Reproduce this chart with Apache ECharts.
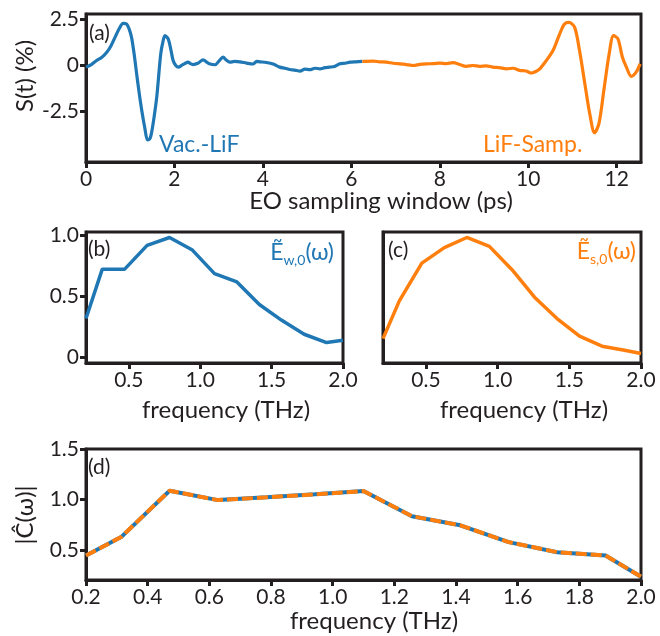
<!DOCTYPE html>
<html>
<head>
<meta charset="utf-8">
<script src="https://cdn.jsdelivr.net/npm/echarts@6/dist/echarts.min.js"></script>
<style>
  html, body { margin: 0; padding: 0; background: #fff; }
  #chart { width: 660px; height: 636px; }
</style>
</head>
<body>
<div id="chart"></div>
<script>
// panel (a): time-domain traces, S(t) in %
var tBlue = [0, 0.12, 0.24, 0.36, 0.47, 0.56, 0.655, 0.75, 0.84, 0.92, 0.98, 1.03, 1.09, 1.145, 1.2, 1.26, 1.33, 1.39, 1.44, 1.48, 1.54, 1.6, 1.69, 1.74, 1.785, 1.86, 1.92, 1.97, 2.03, 2.09, 2.16, 2.23, 2.31, 2.36, 2.42, 2.53, 2.65, 2.72, 2.79, 2.92, 3.01, 3.1, 3.17, 3.25, 3.36, 3.48, 3.63, 3.78, 3.86, 3.93, 4.08, 4.23, 4.38, 4.5, 4.61, 4.72, 4.84, 4.95, 5.06, 5.18, 5.29, 5.4, 5.51, 5.62, 5.74, 5.86, 5.97, 6.1, 6.25];
var sBlue = [-0.09, 0.05, 0.27, 0.45, 0.72, 1.05, 1.53, 2.0, 2.29, 2.25, 1.95, 1.53, 0.6, -0.45, -1.45, -2.43, -3.4, -4.05, -4.0, -3.69, -2.8, -1.71, 0.63, 1.3, 1.62, 1.44, 0.85, 0.27, 0.0, -0.09, 0.0, 0.1, 0.18, 0.1, 0.05, 0.12, 0.31, 0.2, 0.09, 0.04, 0.25, 0.45, 0.3, 0.18, 0.22, 0.2, 0.13, 0.08, 0.22, 0.2, 0.16, 0.08, -0.09, -0.15, -0.22, -0.25, -0.31, -0.2, -0.23, -0.15, -0.18, -0.12, -0.09, -0.05, 0.09, 0.12, 0.18, 0.2, 0.22];
var tOrange = [6.25, 6.49, 6.64, 6.79, 6.95, 7.1, 7.25, 7.4, 7.55, 7.7, 7.85, 8.0, 8.15, 8.3, 8.45, 8.6, 8.75, 8.9, 9.05, 9.2, 9.35, 9.51, 9.66, 9.81, 9.95, 10.07, 10.17, 10.26, 10.41, 10.56, 10.71, 10.82, 10.92, 11.05, 11.16, 11.28, 11.39, 11.5, 11.6, 11.71, 11.83, 11.93, 12.03, 12.13, 12.22, 12.33, 12.44, 12.53];
var sOrange = [0.22, 0.24, 0.2, 0.18, 0.12, 0.09, 0.05, 0.0, 0.06, 0.09, 0.1, 0.13, 0.1, 0.15, 0.05, -0.05, 0.0, -0.05, -0.02, -0.09, -0.12, -0.18, -0.15, -0.27, -0.3, -0.41, -0.33, -0.18, 0.27, 0.81, 1.71, 2.25, 2.34, 2.07, 0.81, -0.99, -2.61, -3.66, -3.15, -1.35, 0.63, 1.62, 1.44, 0.45, -0.09, -0.59, -0.36, 0.09];

// panel (b): |E_w,0|, panel (c): |E_s,0|, panel (d): |C|
var freqB = [0.2, 0.314, 0.471, 0.628, 0.785, 0.942, 1.1, 1.257, 1.414, 1.571, 1.728, 1.885, 2.0];
var ampB = [0.315, 0.72, 0.72, 0.915, 0.98, 0.88, 0.683, 0.615, 0.43, 0.30, 0.186, 0.118, 0.137];
var freqC = [0.2, 0.314, 0.471, 0.628, 0.785, 0.942, 1.1, 1.257, 1.414, 1.571, 1.728, 1.885, 2.0];
var ampC = [0.15, 0.46, 0.77, 0.897, 0.98, 0.907, 0.716, 0.49, 0.315, 0.17, 0.088, 0.055, 0.028];
var freqD = [0.2, 0.314, 0.471, 0.628, 0.785, 0.942, 1.1, 1.257, 1.414, 1.571, 1.728, 1.885, 2.0];
var ampD = [0.443, 0.626, 1.086, 0.993, 1.02, 1.05, 1.083, 0.833, 0.743, 0.576, 0.476, 0.443, 0.233];

var ticksAX = [0, 2, 4, 6, 8, 10, 12];
var ticksAY = [-2.5, 0, 2.5];
var ticksBX = [0.5, 1.0, 1.5, 2.0];
var ticksBY = [0, 0.5, 1.0];
var ticksDX = [0.2, 0.4, 0.6, 0.8, 1.0, 1.2, 1.4, 1.6, 1.8, 2.0];
var ticksDY = [0.5, 1.0, 1.5];

var blue = '#1f77b4';
var orange = '#ff7f0e';
var ink = '#231f20';
var font = 'Lato';

function pairs(xs, ys) {
  var out = [];
  for (var i = 0; i < xs.length; i++) out.push([xs[i], ys[i]]);
  return out;
}

function oneDec(v) {
  return v === 0 ? '0' : v.toFixed(1);
}

function xAx(idx, min, max, ticks, fmt) {
  return {
    type: 'value', gridIndex: idx, min: min, max: max,
    axisLine: { show: true, onZero: false, lineStyle: { color: ink, width: 3 } },
    axisTick: { show: true, length: 6, lineStyle: { color: ink, width: 3 }, customValues: ticks },
    axisLabel: { color: ink, fontSize: 21, fontFamily: font, margin: 7, customValues: ticks, formatter: fmt },
    splitLine: { show: false }
  };
}

function yAx(idx, min, max, ticks, fmt, show) {
  return {
    type: 'value', gridIndex: idx, min: min, max: max,
    axisLine: { show: true, onZero: false, lineStyle: { color: ink, width: 3 } },
    axisTick: { show: show, length: 6, lineStyle: { color: ink, width: 3 }, customValues: ticks },
    axisLabel: { show: show, color: ink, fontSize: 21, fontFamily: font, margin: 7, customValues: ticks, formatter: fmt },
    splitLine: { show: false }
  };
}

function gridBox(left, top, width, height) {
  return { left: left, top: top, width: width, height: height, show: true,
    borderColor: ink, borderWidth: 3, backgroundColor: 'transparent' };
}

// text anchored at its centre-left (or centre) point
function label(x, y, text, color, size, align, rot) {
  return { type: 'text', x: x, y: y, rotation: rot || 0,
    style: { text: text, fill: color, fontSize: size, fontFamily: font,
      align: align || 'left', verticalAlign: 'middle' } };
}

function tildeLabel(xRight, y, sub, color) {
  return { type: 'text', x: xRight, y: y,
    style: { text: '{e|Ẽ}{s|' + sub + '}{e|(ω)}', fill: color, fontFamily: font,
      align: 'right', verticalAlign: 'middle',
      rich: { e: { fontSize: 23, lineHeight: 28, fill: color, fontFamily: font },
              s: { fontSize: 14, lineHeight: 14, verticalAlign: 'bottom', fill: color, fontFamily: font } } } };
}

var chart = echarts.init(document.getElementById('chart'));
var option = {
  animation: false,
  backgroundColor: '#fff',
  grid: [
    gridBox(86, 14, 555, 148),
    gridBox(86, 232, 257, 131),
    gridBox(383, 232, 258, 131),
    gridBox(86, 449, 555, 131)
  ],
  xAxis: [
    xAx(0, 0, 12.55, ticksAX, function (v) { return String(v); }),
    xAx(1, 0.2, 2.0, ticksBX, function (v) { return v.toFixed(1); }),
    xAx(2, 0.2, 2.0, ticksBX, function (v) { return v.toFixed(1); }),
    xAx(3, 0.2, 2.0, ticksDX, function (v) { return v.toFixed(1); })
  ],
  yAxis: [
    yAx(0, -5.25, 2.8, ticksAY, function (v) { return v === 0 ? '0' : String(v); }, true),
    yAx(1, -0.05, 1.025, ticksBY, oneDec, true),
    yAx(2, -0.05, 1.025, ticksBY, oneDec, false),
    yAx(3, 0.2, 1.5, ticksDY, oneDec, true)
  ],
  series: [
    { type: 'line', xAxisIndex: 0, yAxisIndex: 0, data: pairs(tBlue, sBlue), showSymbol: false, smooth: 0.3,
      lineStyle: { color: blue, width: 3.2 } },
    { type: 'line', xAxisIndex: 0, yAxisIndex: 0, data: pairs(tOrange, sOrange), showSymbol: false, smooth: 0.3,
      lineStyle: { color: orange, width: 3.2 } },
    { type: 'line', xAxisIndex: 1, yAxisIndex: 1, data: pairs(freqB, ampB), showSymbol: false,
      lineStyle: { color: blue, width: 3.5 } },
    { type: 'line', xAxisIndex: 2, yAxisIndex: 2, data: pairs(freqC, ampC), showSymbol: false,
      lineStyle: { color: orange, width: 3.5 } },
    { type: 'line', xAxisIndex: 3, yAxisIndex: 3, data: pairs(freqD, ampD), showSymbol: false,
      lineStyle: { color: blue, width: 4 } },
    { type: 'line', xAxisIndex: 3, yAxisIndex: 3, data: pairs(freqD, ampD), showSymbol: false,
      lineStyle: { color: orange, width: 4, type: [11, 4] } }
  ],
  graphic: [
    // axis titles
    label(381, 201, 'EO sampling window (ps)', ink, 24, 'center'),
    label(226, 410, 'frequency (THz)', ink, 24, 'center'),
    label(524, 410, 'frequency (THz)', ink, 24, 'center'),
    label(374, 621, 'frequency (THz)', ink, 24, 'center'),
    label(25, 76, 'S(t) (%)', ink, 24, 'center', Math.PI / 2),
    label(25, 515, '|Ĉ(ω)|', ink, 24, 'center', Math.PI / 2),
    // panel letters
    label(89, 33, '(a)', ink, 21),
    label(88, 249, '(b)', ink, 21),
    label(388, 250, '(c)', ink, 21),
    label(88, 467, '(d)', ink, 21),
    // trace annotations
    label(159, 145, 'Vac.-LiF', blue, 23),
    label(483, 145, 'LiF-Samp.', orange, 23),
    tildeLabel(334, 253, 'w,0', blue),
    tildeLabel(636, 252, 's,0', orange)
  ]
};
chart.setOption(option);
</script>
</body>
</html>
